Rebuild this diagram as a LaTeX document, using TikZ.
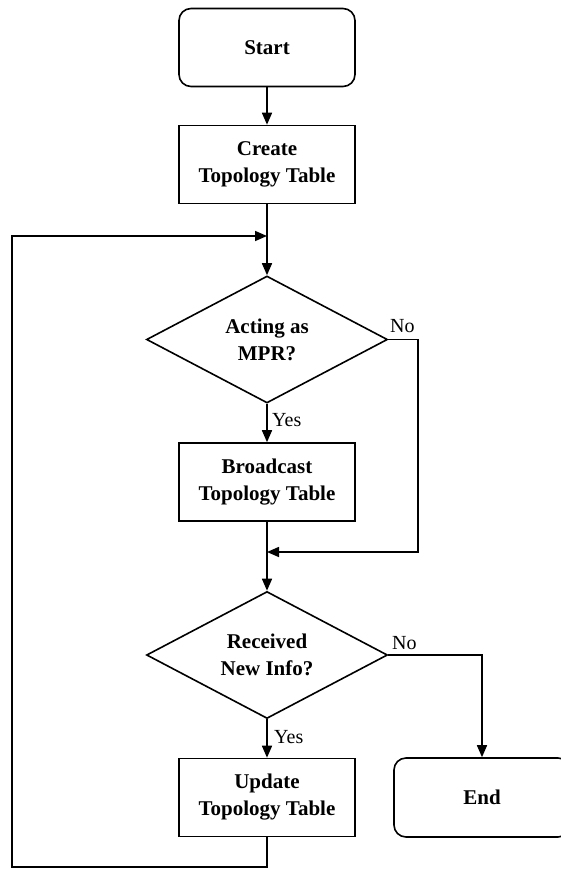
\documentclass[tikz,border=0pt]{standalone}
\usepackage{fontspec}
\setmainfont{Liberation Serif}
\usetikzlibrary{shapes.geometric,arrows.meta}

\tikzset{
    box/.style={draw, line width=1.6pt, minimum width=176pt, minimum height=78pt, inner sep=0pt,
        align=center, font=\fontsize{21}{27}\selectfont\bfseries},
    term/.style={box, rounded corners=12pt},
    decide/.style={draw, line width=1.6pt, shape=diamond, aspect=1.88, inner sep=0pt,
        minimum width=241pt, minimum height=127pt, align=center, font=\fontsize{21}{27}\selectfont\bfseries},
    lbl/.style={font=\fontsize{20}{24}\selectfont, inner sep=0pt},
    arr/.style={line width=1.6pt, -{Triangle[length=12pt,width=10pt]}},
    ln/.style={line width=1.6pt}
}

\begin{document}
\begin{tikzpicture}[x=1pt,y=-1pt]
    \useasboundingbox (0,0) rectangle (560,869);

    \node[term] (start) at (267,47.5) {Start};
    \node[box] (create) at (267,164.5) {Create\\Topology Table};
    \node[decide] (act) at (267,339.5) {Acting as\\MPR?};
    \node[box] (bcast) at (267,482) {Broadcast\\Topology Table};
    \node[decide] (recv) at (267,655) {Received\\New Info?};
    \node[box] (update) at (267,797.5) {Update\\Topology Table};
    \node[term, minimum height=79pt] (stop) at (482,797.5) {End};

    \coordinate (join1) at (267,236);
    \coordinate (join2) at (267,552);
    \coordinate (noturn) at (418,552);
    \coordinate (loopbot) at (12,867);

    \draw[arr] (start) -- (create);
    \draw[arr] (create) -- (act);
    \draw[arr] (act) -- (bcast);
    \draw[arr] (bcast) -- (recv);
    \draw[arr] (act.east) -| (noturn) -- (join2);
    \draw[arr] (recv.east) -| (stop.north);
    \draw[arr] (recv) -- (update);
    \draw[arr] (update.south) |- (loopbot) |- (join1);

    \node[lbl, anchor=south west] (no1) at (390,333) {No};
    \node[lbl, anchor=west] (yes1) at (272,420) {Yes};
    \node[lbl, anchor=south west] (no2) at (392,650) {No};
    \node[lbl, anchor=west] (yes2) at (274,737) {Yes};
\end{tikzpicture}
\end{document}
